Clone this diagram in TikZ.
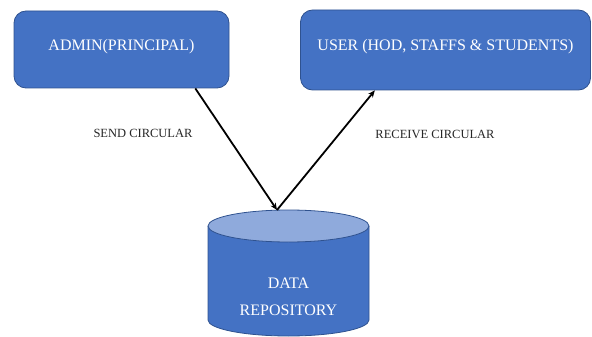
\documentclass[tikz,border=0pt]{standalone}
\usepackage{fontspec}
\setmainfont{Liberation Serif}
\usetikzlibrary{calc,arrows.meta}

\definecolor{boxblue}{HTML}{4472C4}
\definecolor{edgeblue}{HTML}{2F528F}
\definecolor{lidblue}{HTML}{8FAADC}

\tikzset{
  actor/.style={draw=edgeblue, fill=boxblue, rounded corners=12pt,
    text=white, font=\fontsize{16}{19}\selectfont, line width=0.8pt,
    text depth=10pt},
  flow/.style={line width=1.8pt, -{Stealth[length=7pt,width=6pt]}},
  flowlabel/.style={font=\fontsize{12.5}{15}\selectfont, text=black!85}
}

\begin{document}
\begin{tikzpicture}[x=1pt,y=-1pt]
\useasboundingbox (0,0) rectangle (592,337);

% admin and users
\node[actor, minimum width=215pt, minimum height=77pt] (admin) at (121.5,49.5) {ADMIN(PRINCIPAL)};
\node[actor, minimum width=290pt, minimum height=80pt] (user) at (445.5,50) {USER (HOD, STAFFS \& STUDENTS)};

% data repository
\fill[boxblue] (208,226) -- (208,320) arc[start angle=180,end angle=360,x radius=80.5pt,y radius=16pt] -- (369,226) -- cycle;
\draw[edgeblue, line width=0.8pt] (208,226) -- (208,320) arc[start angle=180,end angle=360,x radius=80.5pt,y radius=16pt] -- (369,226);
\draw[edgeblue, fill=lidblue, line width=0.8pt] (288.5,226) ellipse[x radius=80.5pt, y radius=16pt];
\node[text=white, font=\fontsize{16}{19}\selectfont, align=center] (repo) at (288.5,297) {DATA\\[8pt]REPOSITORY};
\coordinate (repotop) at (277,210);

% circulars
\draw[flow] ($(admin.south west)!0.842!(admin.south east)$) -- (repotop);
\draw[flow] (repotop) -- ($(user.south west)!0.257!(user.south east)$);
\node[flowlabel] (send) at (143,133) {SEND CIRCULAR};
\node[flowlabel] (receive) at (435,134) {RECEIVE CIRCULAR};
\end{tikzpicture}
\end{document}
